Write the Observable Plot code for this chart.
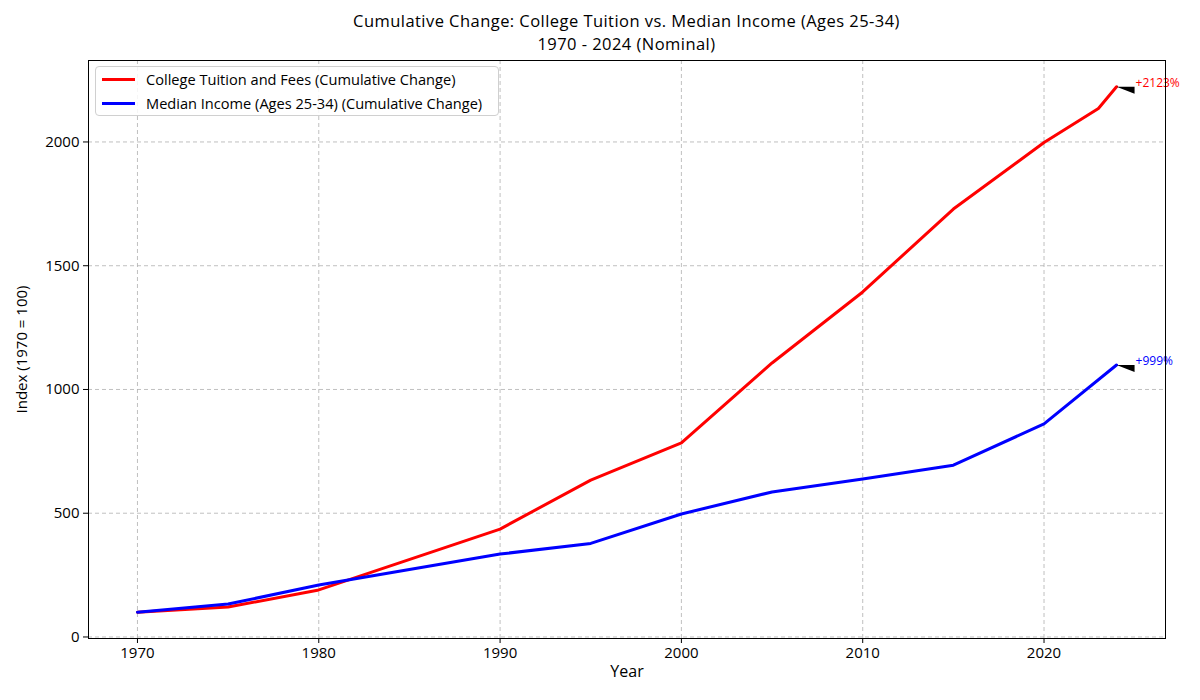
<!DOCTYPE html>
<html>
<head>
<meta charset="utf-8">
<script src="https://cdn.jsdelivr.net/npm/d3@7"></script>
<script src="https://cdn.jsdelivr.net/npm/@observablehq/plot@0.6"></script>
<style>
  html, body { margin: 0; padding: 0; background: #fff; }
  body { font-family: "Open Sans", "DejaVu Sans", sans-serif; }
  #wrap { position: relative; width: 1200px; height: 700px; overflow: hidden; }
  #title { position: absolute; left: 88px; width: 1077px; top: 9px; text-align: center;
           font-size: 16.5px; color: #000; z-index: 2; }
  #title div { height: 23px; line-height: 23px; letter-spacing: 0.45px; }
  #legend { position: absolute; left: 95px; top: 66px; width: 402px; height: 48px;
            border: 1px solid #d0d0d0; border-radius: 4px; background: rgba(255,255,255,0.85);
            z-index: 2; font-size: 14.6px; color: #000; }
  .li { position: absolute; left: 6px; height: 20px; display: flex; align-items: center; }
  .sw { width: 33px; height: 3px; margin-right: 11px; }
  #chart { position: absolute; left: 0; top: 0; }
</style>
</head>
<body>
<div id="wrap">
  <div id="title"><div>Cumulative Change: College Tuition vs. Median Income (Ages 25-34)</div><div>1970 - 2024 (Nominal)</div></div>
  <div id="legend"></div>
  <div id="chart"></div>
</div>
<script>
// ---- data ----
const tuitionYears  = [1970, 1975, 1980, 1990, 1995, 2000, 2005, 2010, 2015, 2020, 2023, 2024];
const tuitionValues = [100, 121, 190, 436, 634, 784, 1107, 1394, 1729, 1998, 2135, 2223];
const incomeYears   = [1970, 1975, 1980, 1990, 1995, 2000, 2005, 2010, 2015, 2020, 2024];
const incomeValues  = [100, 133, 210, 335, 378, 497, 586, 638, 694, 861, 1099];
const seriesNames = ["College Tuition and Fees (Cumulative Change)", "Median Income (Ages 25-34) (Cumulative Change)"];
const seriesColors = ["#ff0000", "#0000ff"];
const yTicks = [0, 500, 1000, 1500, 2000];
const xTicks = [1970, 1980, 1990, 2000, 2010, 2020];

const tuition = tuitionYears.map((y, i) => ({year: y, value: tuitionValues[i], series: seriesNames[0]}));
const income = incomeYears.map((y, i) => ({year: y, value: incomeValues[i], series: seriesNames[1]}));
const lastPoints = [
  {...tuition[tuition.length - 1], color: seriesColors[0]},
  {...income[income.length - 1], color: seriesColors[1]}
].map(d => ({...d, label: "+" + Math.round(d.value - 100) + "%"}));

// legend
const legend = document.getElementById("legend");
seriesNames.forEach((n, i) => {
  const row = document.createElement("div");
  row.className = "li";
  row.style.top = (2 + i * 24) + "px";
  row.innerHTML = `<span class="sw" style="background:${seriesColors[i]}"></span><span>${n}</span>`;
  legend.appendChild(row);
});

// wedge-shaped annotation arrow (apex at the data point)
const wedge = {
  draw(context) {
    context.moveTo(0, 0);
    context.lineTo(18, 0);
    context.lineTo(18, 7);
    context.closePath();
  }
};

const allYears = tuitionYears.concat(incomeYears);
const allVals = tuitionValues.concat(incomeValues);
const xmin = d3.min(allYears), xmax = d3.max(allYears);
const ymin = d3.min(allVals), ymax = d3.max(allVals);
const xpad = (xmax - xmin) * 0.05, ypad = (ymax - ymin) * 0.05;

const chart = Plot.plot({
  width: 1200,
  height: 700,
  marginTop: 60,
  marginBottom: 62,
  marginLeft: 88,
  marginRight: 35,
  style: {fontFamily: "'Open Sans', 'DejaVu Sans', sans-serif", fontSize: "15px", color: "#000", background: "transparent"},
  x: {domain: [xmin - xpad, xmax + xpad], label: null},
  y: {domain: [ymin - ypad, ymax + ypad], label: null},
  marks: [
    Plot.gridX(xTicks, {stroke: "#b0b0b0", strokeOpacity: 1, strokeWidth: 0.8, strokeDasharray: "4,3"}),
    Plot.gridY(yTicks, {stroke: "#b0b0b0", strokeOpacity: 1, strokeWidth: 0.8, strokeDasharray: "4,3"}),
    Plot.axisX(xTicks, {tickFormat: "d", tickSize: 5, tickPadding: 4, fontSize: 15, label: null}),
    Plot.axisY(yTicks, {tickFormat: "d", tickSize: 5, tickPadding: 4, fontSize: 15, label: null}),
    Plot.line(tuition, {x: "year", y: "value", stroke: seriesColors[0], strokeWidth: 3}),
    Plot.line(income, {x: "year", y: "value", stroke: seriesColors[1], strokeWidth: 3}),
    Plot.dot(lastPoints, {x: "year", y: "value", symbol: wedge, fill: "black", stroke: "none", r: 5}),
    Plot.text(lastPoints, {x: "year", y: "value", text: "label", fill: "color", textAnchor: "start", dx: 19, dy: -4, fontSize: 12}),
    Plot.frame({stroke: "#000", strokeWidth: 1}),
    Plot.text(["Year"], {frameAnchor: "bottom", dy: 38, fontSize: 16}),
    Plot.text(["Index (1970 = 100)"], {frameAnchor: "left", textAnchor: "middle", dx: -66, rotate: -90, fontSize: 15})
  ]
});
document.getElementById("chart").appendChild(chart);
</script>
</body>
</html>
